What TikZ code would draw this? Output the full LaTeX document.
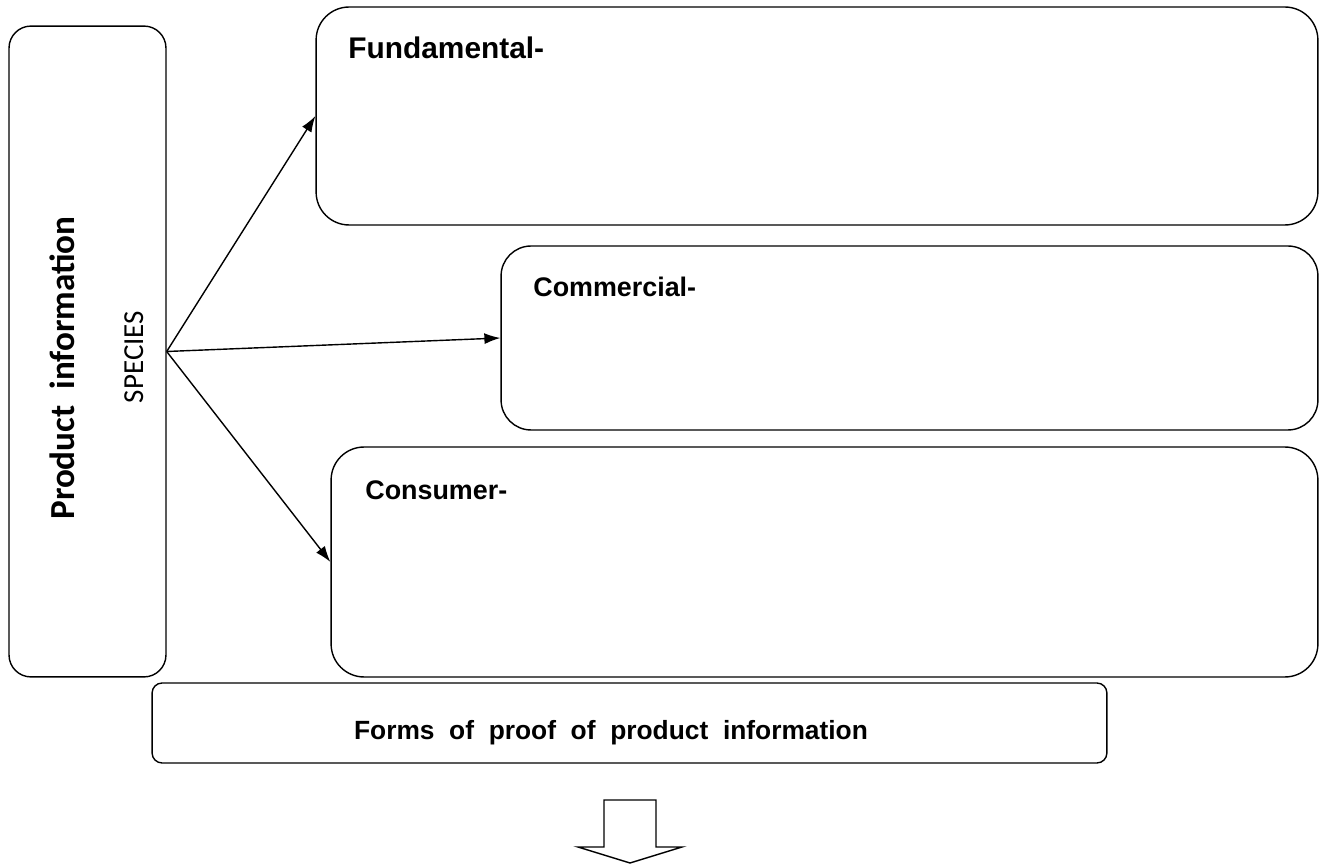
\documentclass[tikz,border=0pt]{standalone}
\usepackage{fontspec}
\setmainfont{Liberation Sans}
\newfontfamily\calibri{Carlito}
\usetikzlibrary{positioning,arrows.meta}
\tikzset{
    box/.style={draw,line width=0.8pt,inner sep=0pt},
    lbl/.style={inner sep=0pt,anchor=base west,font=\bfseries\fontsize{15.3}{18}\selectfont},
    link/.style={line width=0.8pt,-{Latex[length=0.32cm,width=0.22cm]}}
}
\begin{document}
\begin{tikzpicture}
    [x=0.02cm,y=-0.02cm]
    \useasboundingbox (0,0) rectangle (1323,864);
    \node[box,rounded corners=22*0.02cm,minimum width=3.14cm,minimum height=13.02cm](info) at (87.5,351.5){};
    \node[box,rounded corners=33*0.02cm,minimum width=20.04cm,minimum height=4.36cm](fund) at (817,116){};
    \node[box,rounded corners=30*0.02cm,minimum width=16.34cm,minimum height=3.68cm](comm) at (909.5,338){};
    \node[box,rounded corners=33*0.02cm,minimum width=19.74cm,minimum height=4.6cm](cons) at (824.5,562){};
    \node[box,rounded corners=10*0.02cm,minimum width=19.1cm,minimum height=1.6cm](forms) at (629.5,723){};
    \node[rotate=90,inner sep=0pt,anchor=base,font=\calibri\bfseries\fontsize{20}{24}\selectfont](infotext) at (74,368){Product\ \ information};
    \node[rotate=90,inner sep=0pt,anchor=base,font=\calibri\fontsize{16.5}{20}\selectfont](species) at (143,357){SPECIES};
    \node[lbl,font=\bfseries\fontsize{17}{20}\selectfont](fundtext) at (348,59){Fundamental-};
    \node[lbl](commtext) at (533,297){Commercial-};
    \node[lbl](constext) at (365,500){Consumer-};
    \node[lbl,anchor=base,font=\bfseries\fontsize{15}{18}\selectfont](formstext) at (611,740){Forms\ \ of\ \ proof\ \ of\ \ product\ \ information};
    \draw[link] (info.east) -- (fund.west);
    \draw[link] (info.east) -- (comm.west);
    \draw[link] (info.east) -- (cons.west);
    \draw[line width=0.8pt] (604,800) -- (656,800) -- (656,847) -- (682,847) -- (630,863) -- (578,847) -- (604,847) -- cycle;
\end{tikzpicture}
\end{document}
